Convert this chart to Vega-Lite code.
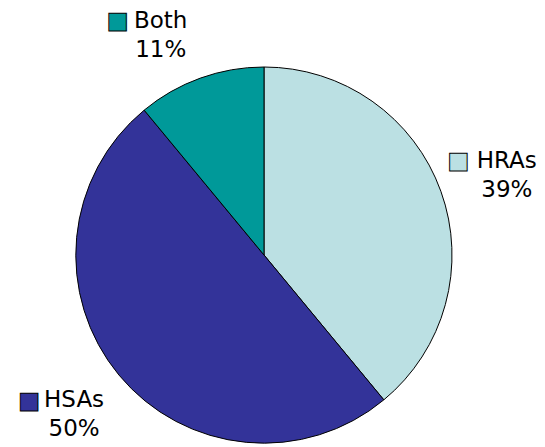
{
  "$schema": "https://vega.github.io/schema/vega-lite/v6.json",
  "width": 528,
  "height": 382,
  "autosize": "none",
  "padding": {"left": 0, "top": 64, "right": 17, "bottom": 1},
  "background": "white",
  "config": {"view": {"stroke": null}},
  "data": {
    "values": [
      {"plan": "HRAs", "pct": 39, "order": 1},
      {"plan": "HSAs", "pct": 50, "order": 2},
      {"plan": "Both", "pct": 11, "order": 3}
    ]
  },
  "transform": [
    {"calculate": "[datum.plan, datum.pct + '%']", "as": "label"}
  ],
  "encoding": {
    "theta": {"field": "pct", "type": "quantitative", "stack": true},
    "order": {"field": "order", "type": "quantitative"}
  },
  "layer": [
    {
      "mark": {"type": "arc", "outerRadius": 188, "stroke": "black", "strokeWidth": 1},
      "encoding": {
        "color": {
          "field": "plan",
          "type": "nominal",
          "scale": {"domain": ["HRAs", "HSAs", "Both"], "range": ["#BBE0E3", "#333399", "#009999"]},
          "legend": null
        }
      }
    },
    {
      "mark": {"type": "text", "radius": 240, "dx": -22, "dy": -8, "font": "DejaVu Sans", "fontSize": 23, "lineHeight": 29, "baseline": "middle", "align": "center", "fill": "black"},
      "encoding": {"text": {"condition": {"test": "datum.plan === 'Both'", "field": "label"}, "value": ""}}
    },
    {
      "mark": {"type": "text", "radius": 240, "dx": 17, "dy": -13, "font": "DejaVu Sans", "fontSize": 23, "lineHeight": 29, "baseline": "middle", "align": "center", "fill": "black"},
      "encoding": {"text": {"condition": {"test": "datum.plan === 'HRAs'", "field": "label"}, "value": ""}}
    },
    {
      "mark": {"type": "text", "radius": 240, "dx": -5, "dy": -8, "font": "DejaVu Sans", "fontSize": 23, "lineHeight": 29, "baseline": "middle", "align": "center", "fill": "black"},
      "encoding": {"text": {"condition": {"test": "datum.plan === 'HSAs'", "field": "label"}, "value": ""}}
    },
    {
      "mark": {"type": "text", "radius": 240, "dx": -65, "dy": -8.5, "font": "DejaVu Sans", "fontSize": 23, "baseline": "middle", "align": "center", "stroke": "black", "strokeWidth": 1},
      "encoding": {
        "text": {"condition": {"test": "datum.plan === 'Both'", "value": "■"}, "value": ""},
        "color": {"field": "plan", "type": "nominal", "legend": null}
      }
    },
    {
      "mark": {"type": "text", "radius": 240, "dx": -31.5, "dy": -12.5, "font": "DejaVu Sans", "fontSize": 23, "baseline": "middle", "align": "center", "stroke": "black", "strokeWidth": 1},
      "encoding": {
        "text": {"condition": {"test": "datum.plan === 'HRAs'", "value": "■"}, "value": ""},
        "color": {"field": "plan", "type": "nominal", "legend": null}
      }
    },
    {
      "mark": {"type": "text", "radius": 240, "dx": -50, "dy": -7, "font": "DejaVu Sans", "fontSize": 23, "baseline": "middle", "align": "center", "stroke": "black", "strokeWidth": 1},
      "encoding": {
        "text": {"condition": {"test": "datum.plan === 'HSAs'", "value": "■"}, "value": ""},
        "color": {"field": "plan", "type": "nominal", "legend": null}
      }
    }
  ]
}
